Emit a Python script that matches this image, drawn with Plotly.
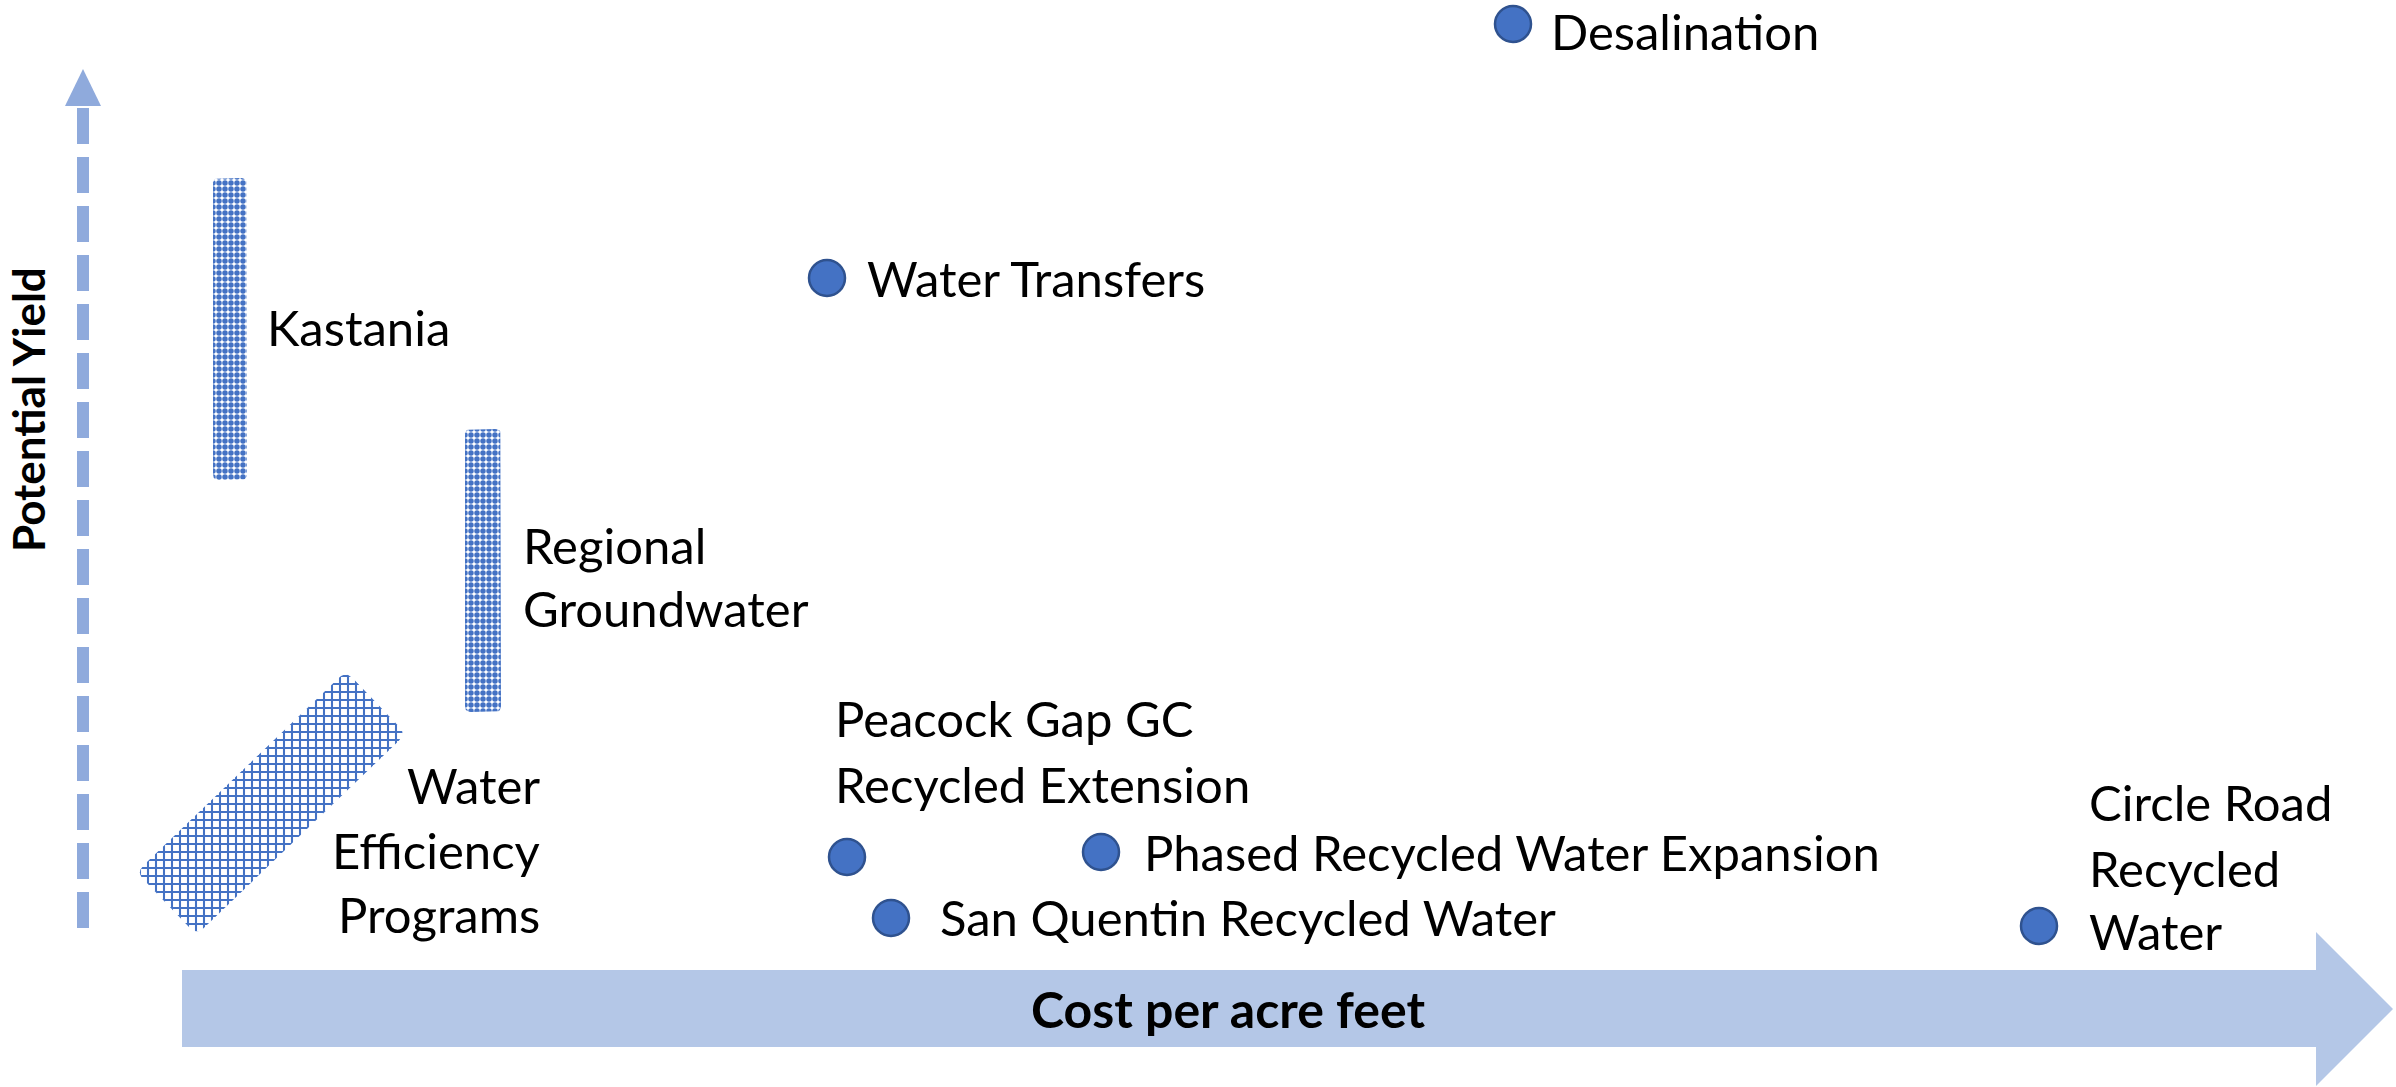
import plotly.graph_objects as go

# ---------------- data (cost on x, potential yield on y; arbitrary diagram units) ----------------
point_names = ["Desalination", "Water Transfers", "Peacock Gap GC Recycled Extension",
               "Phased Recycled Water Expansion", "San Quentin Recycled Water",
               "Circle Road Recycled Water"]
point_cost = [1513, 827, 847, 1101, 891, 2039]
point_yield = [1063, 809, 230, 235, 169, 161]

range_names = ["Kastania", "Regional Groundwater"]
range_cost = [230, 483]
range_yield_low = [607, 375]
range_yield_high = [909, 658]

band_name = "Water Efficiency Programs"
band_cost = [166.5, 376]
band_yield = [183.5, 384.5]

x_title = "Cost per acre feet"
y_title = "Potential Yield"

# ---------------- styles / layout ----------------
W, H = 2396, 1087
FONT = "Lato"
LABEL_SIZE = 49
BLUE = "#4472C4"
DARK = "#2F528F"
ARROW_V = "#8FAADC"
ARROW_H = "#B4C7E7"
BAR_W = [34, 36]
BAND_W = 87

# label text lines with anchor positions (x, y, xanchor, yanchor)
labels = [
    ("Desalination", 1549, H, "left", "top"),
    ("Water Transfers", 865, 809, "left", "middle"),
    ("Kastania", 265, 760, "left", "middle"),
    ("Regional", 521, 542, "left", "middle"),
    ("Groundwater", 521, 479, "left", "middle"),
    ("Peacock Gap GC", 833, 369, "left", "middle"),
    ("Recycled Extension", 833, 303, "left", "middle"),
    ("Water", 542, 302, "right", "middle"),
    ("Efficiency", 542, 237, "right", "middle"),
    ("Programs", 542, 173, "right", "middle"),
    ("Phased Recycled Water Expansion", 1142, 235, "left", "middle"),
    ("San Quentin Recycled Water", 938, 170, "left", "middle"),
    ("Circle Road", 2087, 285, "left", "middle"),
    ("Recycled", 2087, 219, "left", "middle"),
    ("Water", 2087, 156, "left", "middle"),
]


def rounded(poly, r=7, n=6):
    out = []
    k = len(poly)
    for i in range(k):
        px, py = poly[i]
        ax, ay = poly[i - 1]
        bx, by = poly[(i + 1) % k]
        da = ((ax - px) ** 2 + (ay - py) ** 2) ** 0.5
        db = ((bx - px) ** 2 + (by - py) ** 2) ** 0.5
        p1 = (px + r * (ax - px) / da, py + r * (ay - py) / da)
        p2 = (px + r * (bx - px) / db, py + r * (by - py) / db)
        for j in range(n + 1):
            t = j / n
            x = (1 - t) ** 2 * p1[0] + 2 * (1 - t) * t * px + t ** 2 * p2[0]
            y = (1 - t) ** 2 * p1[1] + 2 * (1 - t) * t * py + t ** 2 * p2[1]
            out.append((x, y))
    out.append(out[0])
    return out


fig = go.Figure()

# range bars (checker texture)
for name, c, lo, hi, w in zip(range_names, range_cost, range_yield_low, range_yield_high, BAR_W):
    poly = rounded([(c - w / 2, lo), (c + w / 2, lo), (c + w / 2, hi), (c - w / 2, hi)], r=6)
    fig.add_trace(go.Scatter(
        x=[p[0] for p in poly], y=[p[1] for p in poly], mode="lines", fill="toself",
        line=dict(width=0, color=BLUE), fillcolor="white", name=name, hoverinfo="name",
        fillpattern=dict(shape=".", fgcolor=BLUE, bgcolor="white", size=6, solidity=0.65,
                         fillmode="replace"),
        showlegend=False))

# efficiency band (grid texture)
dx = band_cost[1] - band_cost[0]
dy = band_yield[1] - band_yield[0]
L = (dx * dx + dy * dy) ** 0.5
nx, ny = -dy / L * BAND_W / 2, dx / L * BAND_W / 2
band_poly = [(band_cost[0] + nx, band_yield[0] + ny), (band_cost[0] - nx, band_yield[0] - ny),
             (band_cost[1] - nx, band_yield[1] - ny), (band_cost[1] + nx, band_yield[1] + ny)]
band_poly = rounded(band_poly, r=10)
fig.add_trace(go.Scatter(
    x=[p[0] for p in band_poly], y=[p[1] for p in band_poly], mode="lines", fill="toself",
    line=dict(width=0, color=BLUE), fillcolor="white", name=band_name, hoverinfo="name",
    fillpattern=dict(shape="+", fgcolor=BLUE, bgcolor="white", size=8, solidity=0.45,
                     fillmode="replace"),
    showlegend=False))

# points
fig.add_trace(go.Scatter(
    x=point_cost, y=point_yield, mode="markers", text=point_names, hoverinfo="text",
    marker=dict(size=36, color=BLUE, line=dict(color=DARK, width=2.5)),
    showlegend=False))

shapes = []
# vertical dashed arrow (yield)
shapes.append(dict(type="line", xref="x", yref="y", x0=83, y0=H - 108, x1=83, y1=H - 929,
                   line=dict(color=ARROW_V, width=12, dash="36px,13px"), layer="below"))
shapes.append(dict(type="path", xref="x", yref="y",
                   path=f"M 65 {H-106} L 83 {H-69} L 101 {H-106} Z",
                   fillcolor=ARROW_V, line=dict(width=0), layer="below"))
# horizontal block arrow (cost)
shapes.append(dict(type="path", xref="x", yref="y",
                   path=(f"M 182 {H-970} L 2316 {H-970} L 2316 {H-932} L 2393 {H-1009} "
                         f"L 2316 {H-1086} L 2316 {H-1047} L 182 {H-1047} Z"),
                   fillcolor=ARROW_H, line=dict(width=0), layer="below"))

annotations = []
for txt, x, y, xa, ya in labels:
    annotations.append(dict(text=txt, x=x, y=y, xref="x", yref="y", xanchor=xa, yanchor=ya,
                            showarrow=False, font=dict(family=FONT, size=LABEL_SIZE, color="black")))
annotations.append(dict(text=f"<b>{x_title}</b>", x=1228, y=H - 1009, xref="x", yref="y",
                        xanchor="center", yanchor="middle", showarrow=False,
                        font=dict(family=FONT, size=50, color="black")))
annotations.append(dict(text=f"<b>{y_title}</b>", x=0, y=H - 410, xref="x", yref="y",
                        xanchor="left", yanchor="middle", showarrow=False, textangle=-90,
                        font=dict(family=FONT, size=44, color="black")))

fig.update_layout(
    width=W, height=H, margin=dict(l=0, r=0, t=0, b=0),
    paper_bgcolor="white", plot_bgcolor="white",
    xaxis=dict(range=[0, W], visible=False, fixedrange=True),
    yaxis=dict(range=[0, H], visible=False, fixedrange=True),
    shapes=shapes, annotations=annotations, showlegend=False,
)

fig.write_html("out.html", config={"displayModeBar": False},
               post_script="document.body.style.margin='0';document.body.style.overflow='hidden';")
